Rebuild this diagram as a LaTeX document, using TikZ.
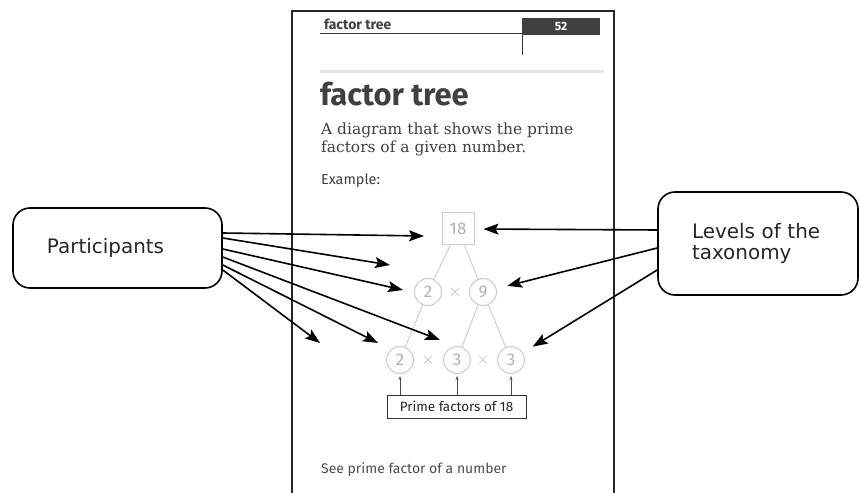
\documentclass[tikz,border=0pt]{standalone}
\usepackage{fontspec}
\setmainfont{Fira Sans}
\newfontfamily\descfont{DejaVu Serif}
\newfontfamily\annfont{DejaVu Sans}
\usetikzlibrary{arrows.meta,calc}
\begin{document}
\begin{tikzpicture}[x=1bp,y=-1bp,
  ann/.style={draw=black, line width=1.6bp, rounded corners=17bp, fill=white,
    font=\annfont\fontsize{20}{21}\selectfont, align=left, inner xsep=34bp, inner ysep=0pt, text=black!85},
  arr/.style={line width=1.6bp, -{Stealth[length=15bp,width=11bp,inset=3bp]}},
  tline/.style={draw=gray!40, line width=0.9bp},
  circ/.style={circle, draw=gray!40, line width=1bp, minimum size=27bp, inner sep=0pt,
    text=gray!60, font=\fontsize{17}{17}\selectfont},
  times/.style={text=gray!55, font=\fontsize{16}{16}\selectfont, inner sep=0pt},
  small/.style={line width=0.6bp, draw=black!70, -{Stealth[length=4bp,width=3bp]}},
  pagetext/.style={anchor=base west, inner sep=0pt, text=black!75}
]
\useasboundingbox (0,0) rectangle (860,493);
\fill[white] (0,0) rectangle (860,493);

% page frame
\draw[line width=2bp, black!85] (292,493) -- (292,11) -- (614,11) -- (614,493);

% header
\node[pagetext, font=\bfseries\fontsize{14}{14}\selectfont] (hdr) at (324,30) {factor tree};
\draw[line width=1bp, black!80] (320,33.5) -- (522,33.5);
\draw[line width=1bp, black!80] (522,33.5) -- (522,55);
\node[fill=black!75, minimum width=78bp, minimum height=17bp, inner sep=0pt, anchor=north west,
  text=white, font=\bfseries\fontsize{12}{12}\selectfont] (pg) at (522,18) {52};
\draw[gray!20, line width=3bp] (320,72) -- (604,72);

% title and description
\node[pagetext, font=\bfseries\fontsize{31}{31}\selectfont] (title) at (320,106) {factor tree};
\node[pagetext, font=\descfont\fontsize{15.5}{15.5}\selectfont] (d1) at (321,135) {A diagram that shows the prime};
\node[pagetext, font=\descfont\fontsize{15.5}{15.5}\selectfont] (d2) at (321,153) {factors of a given number.};
\node[pagetext, font=\fontsize{14.5}{14.5}\selectfont] (ex) at (321,185) {Example:};

% tree
\node[draw=gray!40, line width=1bp, minimum size=32bp, inner sep=0pt, text=gray!60,
  font=\fontsize{17}{17}\selectfont] (n18) at (458,229) {18};
\node[circ] (a2) at (428,292) {2};
\node[times] (x1) at (455,292) {$\times$};
\node[circ] (a9) at (483,292) {9};
\node[circ] (b2) at (400,360) {2};
\node[times] (x2) at (428,360) {$\times$};
\node[circ] (b3) at (457,360) {3};
\node[times] (x3) at (483,360) {$\times$};
\node[circ] (b3r) at (511,360) {3};
\draw[tline] (n18) -- (a2);
\draw[tline] (n18) -- (a9);
\draw[tline] (a2) -- (b2);
\draw[tline] (a9) -- (b3);
\draw[tline] (a9) -- (b3r);

% prime factors box
\node[draw=black!80, line width=1bp, minimum width=139bp, minimum height=23bp, inner sep=0pt,
  text=black!85, font=\fontsize{13.5}{13.5}\selectfont] (pf) at (456.5,406.5) {Prime factors of 18};
\draw[small, shorten >=2bp] (pf.north -| b2) -- (b2);
\draw[small, shorten >=2bp] (pf.north -| b3) -- (b3);
\draw[small, shorten >=2bp] (pf.north -| b3r) -- (b3r);

% see also
\node[pagetext, font=\fontsize{14}{14}\selectfont, text=black!70] (see) at (321,473) {See prime factor of a number};

% annotation boxes
\node[ann, text width=141bp, minimum height=80bp] (P) at (117.5,248) {Participants};
\node[ann, text width=132bp, minimum height=103bp] (L) at (758,243.5) {Levels of the\\taxonomy};

% participant arrow tips
\coordinate (t1) at (424,236);
\coordinate (t2) at (390,265);
\coordinate (t3) at (403,290);
\coordinate (t4) at (440,340);
\coordinate (t5) at (378,343);
\coordinate (t6) at (320,343);
\draw[arr] ([yshift=15bp]P.east) -- (t1);
\draw[arr] ([yshift=10bp]P.east) -- (t2);
\draw[arr] ([yshift=-1bp]P.east) -- (t3);
\draw[arr] ([yshift=-9bp]P.east) -- (t4);
\draw[arr] ([yshift=-17bp]P.east) -- (t5);
\draw[arr] ([yshift=-22bp]P.east) -- (t6);

% level arrows
\draw[arr, shorten >=9bp] ([yshift=13.5bp]L.west) -- (n18.east);
\draw[arr, shorten >=11bp] ([yshift=-4.5bp]L.west) -- (a9);
\draw[arr, shorten >=11.5bp] ([yshift=-26.5bp]L.west) -- (b3r);
\end{tikzpicture}
\end{document}
